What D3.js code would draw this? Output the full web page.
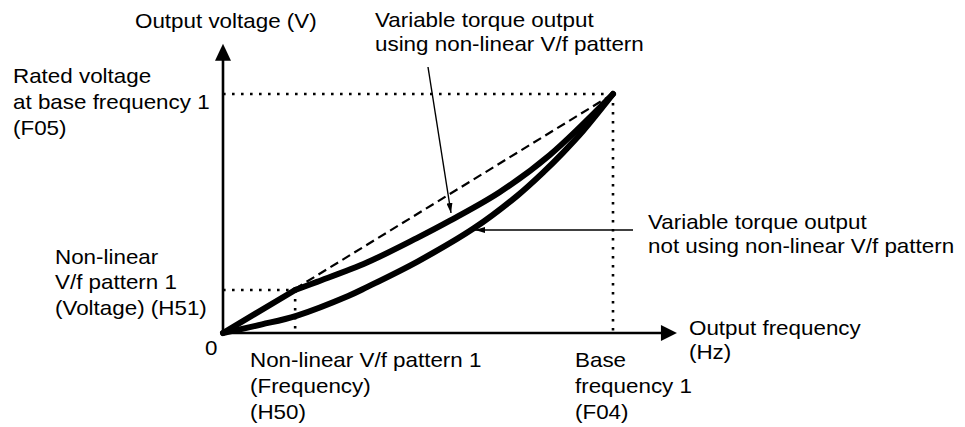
<!DOCTYPE html>
<html>
<head>
<meta charset="utf-8">
<script src="https://cdn.jsdelivr.net/npm/d3@7/dist/d3.min.js"></script>
<style>
  html, body { margin: 0; padding: 0; background: #fff; }
  svg { display: block; }
  text { font-family: "Liberation Sans", Arial, sans-serif; font-size: 20px; fill: #000; }
</style>
</head>
<body>
<svg id="chart" width="965" height="427"></svg>
<script>
// Output frequency as a fraction of base frequency 1 (F04),
// output voltage as a fraction of rated voltage (F05).
const h50Freq = 0.185;   // Non-linear V/f pattern 1 frequency (H50)
const h51Volt = 0.18;    // Non-linear V/f pattern 1 voltage (H51)

// Variable torque output using the non-linear V/f pattern
const withPatternFreq = [0, 0.185, 0.241, 0.369, 0.497, 0.582, 0.71, 0.838, 1];
const withPatternVolt = [0, 0.18, 0.214, 0.295, 0.397, 0.47, 0.59, 0.745, 1];

// Variable torque output not using the non-linear V/f pattern
const withoutPatternFreq = [0, 0.1, 0.188, 0.321, 0.369, 0.5, 0.645, 0.755, 0.821, 0.872, 0.923, 1];
const withoutPatternVolt = [0, 0.036, 0.072, 0.155, 0.192, 0.30, 0.44, 0.575, 0.672, 0.755, 0.845, 1];

// Linear V/f reference
const linearFreq = [0, 1];
const linearVolt = [0, 1];

const svg = d3.select("#chart");

const x = d3.scaleLinear().domain([0, 1]).range([223, 613]);
const y = d3.scaleLinear().domain([0, 1]).range([333, 94]);
const xAxisEnd = 1.164;
const yAxisEnd = 1.21;

const zip = (fs, vs) => fs.map((f, i) => [f, vs[i]]);
const line = d3.line().x(d => x(d[0])).y(d => y(d[1]));
const smooth = d3.line().x(d => x(d[0])).y(d => y(d[1])).curve(d3.curveCatmullRom.alpha(0.5));

// Arrow marker for annotation leaders
const defs = svg.append("defs");
defs.append("marker")
  .attr("id", "lead")
  .attr("viewBox", "0 0 10 6")
  .attr("refX", 10).attr("refY", 3)
  .attr("markerWidth", 10).attr("markerHeight", 6)
  .attr("markerUnits", "userSpaceOnUse")
  .attr("orient", "auto")
  .append("path").attr("d", "M0,0 L10,3 L0,6 Z").attr("fill", "#000");

// Dotted guides
const dotted = svg.append("g")
  .attr("fill", "none").attr("stroke", "#000")
  .attr("stroke-width", 2.6).attr("stroke-dasharray", "2.6 6.4");
dotted.append("path").attr("d", line([[0, 1], [1, 1]]));
dotted.append("path").attr("d", line([[1, 1], [1, 0]]));
dotted.append("path").attr("d", line([[0, h51Volt], [h50Freq, h51Volt]]));
dotted.append("path").attr("d", line([[h50Freq, h51Volt], [h50Freq, 0]]));

// Linear reference (dashed)
svg.append("path")
  .attr("d", line(zip(linearFreq, linearVolt)))
  .attr("fill", "none").attr("stroke", "#000")
  .attr("stroke-width", 2.2).attr("stroke-dasharray", "9 5");

// Axes with arrowheads
const axes = svg.append("g").attr("stroke", "#000").attr("stroke-width", 2.6);
axes.append("line")
  .attr("x1", x(0)).attr("y1", y(0)).attr("x2", x(0)).attr("y2", y(yAxisEnd) + 15);
axes.append("line")
  .attr("x1", x(0) - 1).attr("y1", y(0)).attr("x2", x(xAxisEnd) - 14).attr("y2", y(0));
svg.append("path")
  .attr("d", `M${x(0)},${y(yAxisEnd)} L${x(0) - 8},${y(yAxisEnd) + 17} L${x(0) + 8},${y(yAxisEnd) + 17} Z`)
  .attr("fill", "#000");
svg.append("path")
  .attr("d", `M${x(xAxisEnd)},${y(0)} L${x(xAxisEnd) - 16},${y(0) - 8} L${x(xAxisEnd) - 16},${y(0) + 8} Z`)
  .attr("fill", "#000");

// V/f curves
const curveStyle = sel => sel
  .attr("fill", "none").attr("stroke", "#000")
  .attr("stroke-width", 6).attr("stroke-linecap", "round").attr("stroke-linejoin", "round");

svg.append("path")
  .attr("d", smooth(zip(withoutPatternFreq, withoutPatternVolt)))
  .call(curveStyle);

// Straight rise to the H50/H51 point, then the curved section up to base frequency
const withPattern = zip(withPatternFreq, withPatternVolt);
const kneeIndex = withPatternFreq.indexOf(h50Freq);
svg.append("path")
  .attr("d", line(withPattern.slice(0, kneeIndex + 1)))
  .call(curveStyle);
svg.append("path")
  .attr("d", smooth(withPattern.slice(kneeIndex)))
  .call(curveStyle);

// Leader lines
svg.append("line")
  .attr("x1", 428).attr("y1", 67).attr("x2", 451).attr("y2", 213)
  .attr("stroke", "#000").attr("stroke-width", 1.4).attr("marker-end", "url(#lead)");
svg.append("line")
  .attr("x1", 633).attr("y1", 230).attr("x2", 475).attr("y2", 230)
  .attr("stroke", "#000").attr("stroke-width", 1.4).attr("marker-end", "url(#lead)");

// Text labels
const labels = [
  { x: 135, y: 28, lines: ["Output voltage (V)"], gap: 26 },
  { x: 13, y: 83, lines: ["Rated voltage", "at base frequency 1", "(F05)"], gap: 26 },
  { x: 55, y: 264, lines: ["Non-linear", "V/f pattern 1", "(Voltage) (H51)"], gap: 25.5 },
  { x: 205, y: 355, lines: ["0"], gap: 26 },
  { x: 250, y: 367, lines: ["Non-linear V/f pattern 1", "(Frequency)", "(H50)"], gap: 26 },
  { x: 575, y: 367, lines: ["Base", "frequency 1", "(F04)"], gap: 26 },
  { x: 689, y: 335, lines: ["Output frequency", "(Hz)"], gap: 24 },
  { x: 375, y: 27, lines: ["Variable torque output", "using non-linear V/f pattern"], gap: 24 },
  { x: 648, y: 229, lines: ["Variable torque output", "not using non-linear V/f pattern"], gap: 24 }
];

labels.forEach(l => {
  const g = svg.append("g").attr("transform", `translate(${l.x},${l.y}) scale(1.12,1)`);
  l.lines.forEach((t, i) => {
    g.append("text").attr("x", 0).attr("y", i * l.gap).text(t);
  });
});
</script>
</body>
</html>
